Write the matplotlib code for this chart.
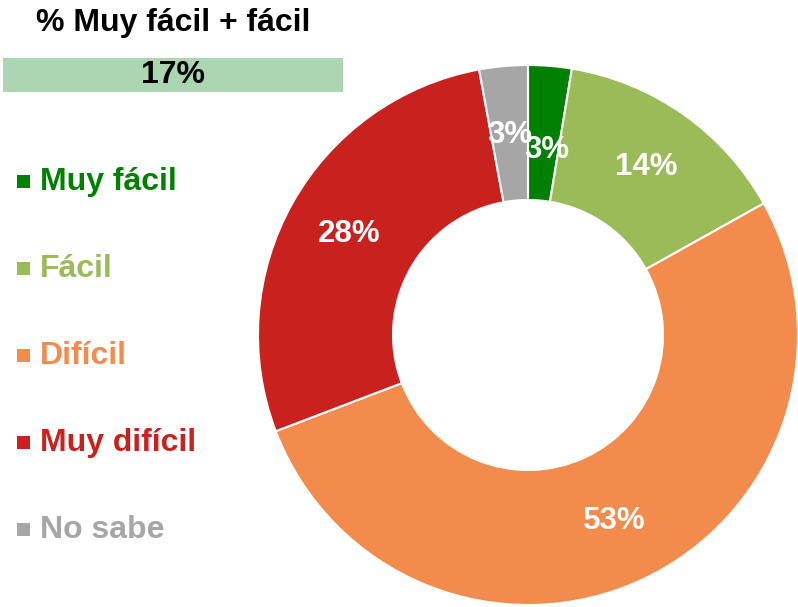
import matplotlib
matplotlib.use("Agg")
import matplotlib.pyplot as plt
import numpy as np

categories = ["Muy fácil", "Fácil", "Difícil", "Muy difícil", "No sabe"]
values = [2.6, 14.3, 52.3, 27.9, 2.9]
value_labels = ["3%", "14%", "53%", "28%", "3%"]
colors = ["#008000", "#9BBB59", "#F28B4C", "#C9211E", "#A6A6A6"]
title_text = "% Muy fácil + fácil"
summary_text = "17%"

plt.rcParams['font.family'] = ['Liberation Sans', 'DejaVu Sans']

W, H = 798, 607
fig = plt.figure(figsize=(W / 100, H / 100), dpi=100)

# donut axes
cx, cy, r = 528, 335, 270
ax = fig.add_axes([(cx - r) / W, (H - cy - r) / H, 2 * r / W, 2 * r / H])
wedges, _ = ax.pie(values, colors=colors, startangle=90, counterclock=False,
                   radius=1.0, wedgeprops=dict(width=0.5, edgecolor="white", linewidth=1.5))
ax.set_xlim(-1, 1)
ax.set_ylim(-1, 1)
ax.set_aspect("equal")
ax.axis("off")

label_r = [0.69, 0.76, 0.76, 0.76, 0.745]
label_offset = [-1, 0, 0, 0, 0]
for w, lab, lr, off in zip(wedges, value_labels, label_r, label_offset):
    ang = np.deg2rad((w.theta1 + w.theta2) / 2 + off)
    ax.text(lr * np.cos(ang), lr * np.sin(ang), lab, ha="center", va="center",
            color="white", fontsize=22.5, fontweight="bold")

# title and summary band
fig.text(173 / W, 1 - 23 / H, title_text, ha="center", va="center",
         fontsize=23, fontweight="bold", color="black")
band = plt.Rectangle((3 / W, 1 - 92 / H), 340 / W, 34 / H, transform=fig.transFigure,
                     facecolor="#ABD6B1", edgecolor="none")
fig.patches.append(band)
fig.text(173 / W, 1 - 75 / H, summary_text, ha="center", va="center",
         fontsize=23, fontweight="bold", color="black")

# legend
leg_y = [182, 269, 356, 443, 530]
for cat, col, yy in zip(categories, colors, leg_y):
    sq = plt.Rectangle((17 / W, 1 - (yy + 6) / H), 13 / W, 13 / H,
                       transform=fig.transFigure, facecolor=col, edgecolor="none")
    fig.patches.append(sq)
    fig.text(40 / W, 1 - yy / H, cat, ha="left", va="center",
             fontsize=23, fontweight="bold", color=col)

fig.savefig("out.png", dpi=100)
